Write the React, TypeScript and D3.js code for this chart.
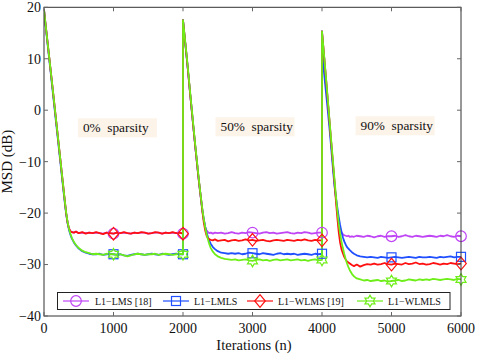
import React from "react";
import * as d3 from "d3";

// ---- data ----
const segmentStarts = [0, 2000, 4000];
const segmentOffsets = [
  0, 20, 40, 60, 80, 100, 120, 140, 160, 180, 200, 220, 240, 260, 280, 300, 320, 340, 360, 380, 400,
  430, 460,
  500, 550, 600, 650, 700, 750, 800, 850, 900, 950, 1000, 1050, 1100, 1150, 1200, 1250, 1300, 1350,
  1400, 1450, 1500, 1550, 1600, 1650, 1700, 1750, 1800, 1850, 1900, 1950, 2000,
];

const l1LMS = [
  // 0% sparsity
  19.5, 17.0, 14.6, 12.1, 9.7, 7.2, 4.8, 2.3, -0.2, -2.7, -5.2, -7.7, -10.2, -12.7, -15.2, -17.7,
  -20.1, -21.9, -23.0, -23.5, -23.7, -23.8, -23.6, -23.9,
  -23.8, -23.9, -23.8, -23.9, -23.8, -23.9, -24.0, -23.8, -23.9, -24.0,
  -23.8, -23.9, -23.8, -23.9, -24.0, -23.8, -23.9, -23.8, -23.8, -24.0,
  -23.9, -23.8, -23.8, -24.0, -23.8, -23.9, -23.8, -23.9, -23.8, -24.0,
  // 50% sparsity
  17.5, 14.8, 12.1, 9.4, 6.5, 3.6, 0.8, -2.0, -4.8, -7.5, -10.1, -12.7, -15.1, -17.4,
  -19.5, -21.4, -22.7, -23.4, -23.7, -23.9, -23.8, -24.0, -23.8, -23.9,
  -23.8, -24.0, -23.9, -23.7, -23.9, -24.0, -23.8, -23.9, -23.7, -23.8,
  -23.9, -24.0, -23.8, -23.7, -23.9, -23.8, -24.0, -23.9, -23.8, -23.7,
  -23.9, -24.0, -23.8, -23.9, -23.7, -23.8, -24.0, -23.9, -23.8, -23.8,
  // 90% sparsity
  15.3, 12.1, 8.9, 5.7, 2.4, -0.9, -4.2, -7.5, -10.8, -14.0,
  -17.0, -19.6, -21.6, -22.9, -23.7, -24.1, -24.3, -24.4, -24.5, -24.4, -24.6, -24.5, -24.6, -24.4,
  -24.5, -24.6, -24.4, -24.5, -24.7, -24.5, -24.4, -24.6, -24.5, -24.5,
  -24.4, -24.6, -24.5, -24.3, -24.5, -24.6, -24.4, -24.5, -24.6, -24.5,
  -24.4, -24.5, -24.6, -24.4, -24.5, -24.3, -24.5, -24.6, -24.4, -24.5,
];

const l1LMLS = [
  // 0% sparsity
  19.5, 16.8, 14.3, 11.8, 9.3, 6.8, 4.3, 1.8, -0.7, -3.2, -5.7, -8.2, -10.7, -13.2, -15.7, -18.1,
  -20.3, -22.0, -23.3, -24.2, -24.9, -25.7, -26.3, -26.9, -27.4, -27.7, -27.9, -28.0,
  -28.0, -27.9, -28.1, -28.0, -27.9, -28.0,
  -28.1, -28.0, -28.2, -28.3, -28.1, -28.0, -27.9, -28.0, -28.1, -28.0,
  -27.9, -28.0, -28.1, -27.9, -28.0, -28.1, -28.0, -27.9, -28.0, -28.0,
  // 50% sparsity
  17.5, 14.6, 12.0, 9.3, 6.5, 3.6, 0.8, -2.0, -4.8, -7.5, -10.1, -12.7, -15.1, -17.4,
  -19.6, -21.3, -22.7, -23.8, -24.7, -25.4, -26.0, -26.6, -27.0, -27.4, -27.7, -27.8, -27.9, -27.8,
  -27.9, -27.8, -28.0, -27.9, -27.7, -27.8,
  -27.9, -28.0, -27.8, -27.9, -28.0, -28.1, -27.9, -27.8, -28.0, -27.9,
  -28.0, -27.9, -28.1, -28.0, -27.9, -28.0, -28.1, -27.9, -28.0, -27.9,
  // 90% sparsity
  15.3, 8.6, 5.8, 3.1, 0.4, -2.4, -5.4, -8.6, -11.8, -14.8,
  -16.9, -18.9, -20.7, -22.3, -23.6, -24.7, -25.5, -26.1, -26.6, -26.9, -27.2, -27.6, -27.9, -28.2,
  -28.4, -28.5, -28.6, -28.5,
  -28.6, -28.7, -28.5, -28.6, -28.7, -28.6,
  -28.5, -28.6, -28.7, -28.6, -28.5, -28.6, -28.7, -28.5, -28.6, -28.6,
  -28.5, -28.6, -28.7, -28.5, -28.6, -28.5, -28.4, -28.6, -28.5, -28.5,
];

const l1WLMS = [
  // 0% sparsity
  19.5, 17.0, 14.6, 12.1, 9.7, 7.2, 4.8, 2.3, -0.2, -2.7, -5.2, -7.7, -10.2, -12.7, -15.2, -17.7,
  -20.1, -21.9, -23.0, -23.5, -23.7, -23.8, -23.6, -23.9,
  -23.7, -24.0, -23.8, -23.9, -23.7, -23.9, -24.1, -23.8, -23.9, -24.0,
  -23.8, -23.9, -23.7, -23.9, -24.0, -23.8, -23.9, -23.7, -23.8, -24.0,
  -23.9, -23.7, -23.8, -24.0, -23.8, -23.9, -23.7, -23.9, -23.8, -24.0,
  // 50% sparsity
  17.5, 14.8, 12.1, 9.4, 6.5, 3.6, 0.8, -2.0, -4.8, -7.5, -10.1, -12.7, -15.1, -17.4,
  -19.8, -21.9, -23.4, -24.4, -24.9, -25.1, -25.2, -25.3, -25.1, -25.4,
  -25.3, -25.2, -25.5, -25.3, -25.2, -25.4, -25.3, -25.1, -25.3, -25.2,
  -25.4, -25.3, -25.2, -25.4, -25.5, -25.3, -25.2, -25.3, -25.4, -25.2,
  -25.3, -25.4, -25.2, -25.3, -25.1, -25.3, -25.4, -25.2, -25.3, -25.3,
  // 90% sparsity
  15.3, 12.1, 8.9, 5.7, 2.4, -0.9, -4.2, -7.5, -10.8, -14.0,
  -17.6, -20.8, -23.6, -25.7, -27.0, -27.8, -28.5, -29.0, -29.4, -29.6, -29.8, -30.1, -30.3, -30.0,
  -30.4, -30.1, -29.9, -30.0, -29.8, -30.0, -29.9, -29.7, -29.9, -30.0,
  -29.8, -29.9, -30.0, -29.7, -29.9, -29.8, -29.6, -29.9, -29.8, -30.0,
  -29.9, -29.7, -29.8, -30.0, -29.8, -29.9, -29.7, -29.8, -29.9, -29.8,
];

const l1WLMLS = [
  // 0% sparsity
  19.5, 17.0, 14.6, 12.1, 9.7, 7.2, 4.8, 2.3, -0.2, -2.7, -5.2, -7.7, -10.2, -12.7, -15.2, -17.7,
  -20.0, -21.8, -23.1, -24.0, -24.8, -25.6, -26.2, -26.8, -27.3, -27.6, -27.8, -28.0,
  -27.9, -28.0, -28.1, -27.9, -28.0, -28.0,
  -28.1, -28.0, -28.2, -28.4, -28.2, -28.0, -27.9, -28.0, -28.1, -28.0,
  -28.0, -27.9, -28.1, -28.0, -27.9, -28.0, -28.1, -28.0, -27.9, -28.0,
  // 50% sparsity
  17.5, 14.9, 12.3, 9.6, 6.8, 3.9, 1.1, -1.7, -4.5, -7.2, -9.8, -12.4, -14.9, -17.2,
  -19.4, -21.2, -22.8, -24.1, -25.2, -26.1, -26.8, -27.5, -28.0, -28.4, -28.7, -28.9, -29.0, -29.1,
  -29.0, -29.2, -29.1, -29.0, -29.2, -29.3,
  -29.1, -29.0, -29.2, -29.1, -29.3, -29.1, -29.0, -29.2, -29.1, -29.0,
  -29.2, -29.1, -29.0, -29.2, -29.1, -29.3, -29.1, -29.0, -29.2, -29.1,
  // 90% sparsity
  15.3, 12.2, 9.1, 5.9, 2.7, -0.6, -3.9, -7.1, -10.3, -13.5,
  -16.6, -19.5, -22.0, -23.9, -25.5, -26.8, -27.9, -28.9, -29.8, -30.5, -31.1, -31.8, -32.3, -32.7,
  -32.9, -33.1, -33.0, -33.2,
  -33.1, -33.0, -33.2, -33.1, -33.3, -33.2,
  -33.1, -33.0, -33.2, -33.1, -32.9, -33.0, -33.1, -32.9, -33.0, -32.9,
  -33.0, -32.8, -32.9, -33.0, -32.9, -32.8, -32.9, -33.0, -32.8, -32.9,
];

const seriesNames = ["L1\u2212LMS [18]", "L1\u2212LMLS", "L1\u2212WLMS [19]", "L1\u2212WLMLS"];
const seriesValues = [l1LMS, l1LMLS, l1WLMS, l1WLMLS];
const seriesColors = ["#bf45f5", "#1f4fff", "#ff1010", "#6eee18"];
const seriesMarkers = ["circle", "square", "diamond", "hexagram"];
const markerIters = [1000, 2000, 3000, 4000, 5000, 6000];

const xTicks = [0, 1000, 2000, 3000, 4000, 5000, 6000];
const yTicks = [-40, -30, -20, -10, 0, 10, 20];
const annotations = [
  { label: "0%  sparsity", n: 560, db: -4.3 },
  { label: "50%  sparsity", n: 2540, db: -4.1 },
  { label: "90%  sparsity", n: 4555, db: -3.9 },
];

// ---- layout ----
const W = 480;
const H = 354;
const PL = 44;
const PR = 461;
const PT = 7.3;
const PB = 316;
const FONT = "'Liberation Serif', 'Times New Roman', Times, serif";

const x = d3.scaleLinear().domain([0, 6000]).range([PL, PR]);
const y = d3.scaleLinear().domain([-40, 20]).range([PB, PT]);

function toPoints(vals: number[]): [number, number][] {
  const pts: [number, number][] = [];
  const L = segmentOffsets.length;
  segmentStarts.forEach((s, k) => {
    segmentOffsets.forEach((o, i) => {
      pts.push([s + o, vals[k * L + i]]);
    });
  });
  return pts;
}

function Marker({ kind, cx, cy, color }: { kind: string; cx: number; cy: number; color: string }) {
  const common = { fill: "none", stroke: color, strokeWidth: 1.2 };
  if (kind === "circle") return <circle cx={cx} cy={cy} r={5.3} {...common} />;
  if (kind === "square") return <rect x={cx - 4.5} y={cy - 4.5} width={9} height={9} {...common} />;
  if (kind === "diamond")
    return (
      <path
        d={`M${cx},${cy - 6.3}L${cx + 5.3},${cy}L${cx},${cy + 6.3}L${cx - 5.3},${cy}Z`}
        {...common}
      />
    );
  // hexagram
  const R = 5.8;
  const r = R / Math.sqrt(3);
  const pts: string[] = [];
  for (let i = 0; i < 12; i++) {
    const a = (-90 + i * 30) * (Math.PI / 180);
    const rr = i % 2 === 0 ? R : r;
    pts.push(`${cx + rr * Math.cos(a)},${cy + rr * Math.sin(a)}`);
  }
  return <polygon points={pts.join(" ")} {...common} />;
}

export default function App() {
  const line = d3
    .line<[number, number]>()
    .x((d) => x(d[0]))
    .y((d) => y(d[1]));

  const series = seriesValues.map((vals, i) => {
    const pts = toPoints(vals);
    const marks = markerIters.map((m) => pts.find((p) => p[0] === m)!);
    return { pts, marks, color: seriesColors[i], kind: seriesMarkers[i], name: seriesNames[i] };
  });

  const legendItems = [
    { lx: 63, tx: 95 },
    { lx: 163, tx: 194 },
    { lx: 247, tx: 278 },
    { lx: 357, tx: 388 },
  ];
  const legendY = 301;
  const ts = { fontFamily: FONT };

  return (
    <svg
      width={W}
      height={H}
      style={{ position: "absolute", left: 0, top: 0, background: "#fff", fontFamily: FONT }}
    >
      <defs>
        <clipPath id="plotclip">
          <rect x={PL} y={PT - 2} width={PR - PL} height={PB - PT + 2} />
        </clipPath>
      </defs>
      <rect x={0} y={0} width={W} height={H} fill="#fff" />

      {/* annotations */}
      {annotations.map((a, i) => {
        const tx = x(a.n);
        const ty = y(a.db);
        const w = a.label.length > 13 ? 88 : 79;
        return (
          <g key={i}>
            <rect x={tx - 5} y={ty - 14} width={w} height={19} fill="#fcf3e9" />
            <text x={tx} y={ty} fontSize={13.3} fill="#111" style={{ ...ts, whiteSpace: "pre" }}>
              {a.label}
            </text>
          </g>
        );
      })}

      {/* series lines */}
      <g clipPath="url(#plotclip)">
        {series.map((s, i) => (
          <path key={i} d={line(s.pts) || ""} fill="none" stroke={s.color} strokeWidth={1.8} strokeLinejoin="round" />
        ))}
      </g>
      {series.map((s, i) => (
        <g key={i}>
          {s.marks.map((p, j) => (
            <Marker key={j} kind={s.kind} cx={x(p[0])} cy={y(p[1])} color={s.color} />
          ))}
        </g>
      ))}

      {/* frame */}
      <rect x={PL} y={PT} width={PR - PL} height={PB - PT} fill="none" stroke="#333" strokeWidth={1} />

      {/* ticks */}
      {xTicks.map((t) => (
        <g key={"xt" + t}>
          <line x1={x(t)} x2={x(t)} y1={PB} y2={PB - 4} stroke="#666" />
          <line x1={x(t)} x2={x(t)} y1={PT} y2={PT + 4} stroke="#666" />
          <text x={x(t)} y={PB + 16.5} textAnchor="middle" fontSize={14} fill="#111" style={ts}>
            {t}
          </text>
        </g>
      ))}
      {yTicks.map((t) => (
        <g key={"yt" + t}>
          <line x1={PL} x2={PL + 4} y1={y(t)} y2={y(t)} stroke="#666" />
          <line x1={PR} x2={PR - 4} y1={y(t)} y2={y(t)} stroke="#666" />
          <text x={PL - 3} y={y(t)} dy="0.35em" textAnchor="end" fontSize={14} fill="#111" style={ts}>
            {t < 0 ? "\u2212" + Math.abs(t) : String(t)}
          </text>
        </g>
      ))}

      {/* axis titles */}
      <text x={(PL + PR) / 2 + 1.5} y={349.5} textAnchor="middle" fontSize={14.5} fill="#111" style={ts}>
        Iterations (n)
      </text>
      <text
        transform={`translate(12,${(PT + PB) / 2}) rotate(-90)`}
        textAnchor="middle"
        fontSize={15}
        fill="#111"
        style={ts}
      >
        MSD (dB)
      </text>

      {/* legend */}
      <rect x={57.5} y={292.5} width={392.5} height={17} fill="#fff" stroke="#222" strokeWidth={1} />
      {series.map((s, i) => {
        const it = legendItems[i];
        return (
          <g key={"lg" + i}>
            <line x1={it.lx} x2={it.lx + 26} y1={legendY} y2={legendY} stroke={s.color} strokeWidth={1.2} />
            <Marker kind={s.kind} cx={it.lx + 13} cy={legendY} color={s.color} />
            <text x={it.tx} y={legendY} dy="0.35em" fontSize={10} fill="#111" style={ts}>
              {s.name}
            </text>
          </g>
        );
      })}
    </svg>
  );
}
